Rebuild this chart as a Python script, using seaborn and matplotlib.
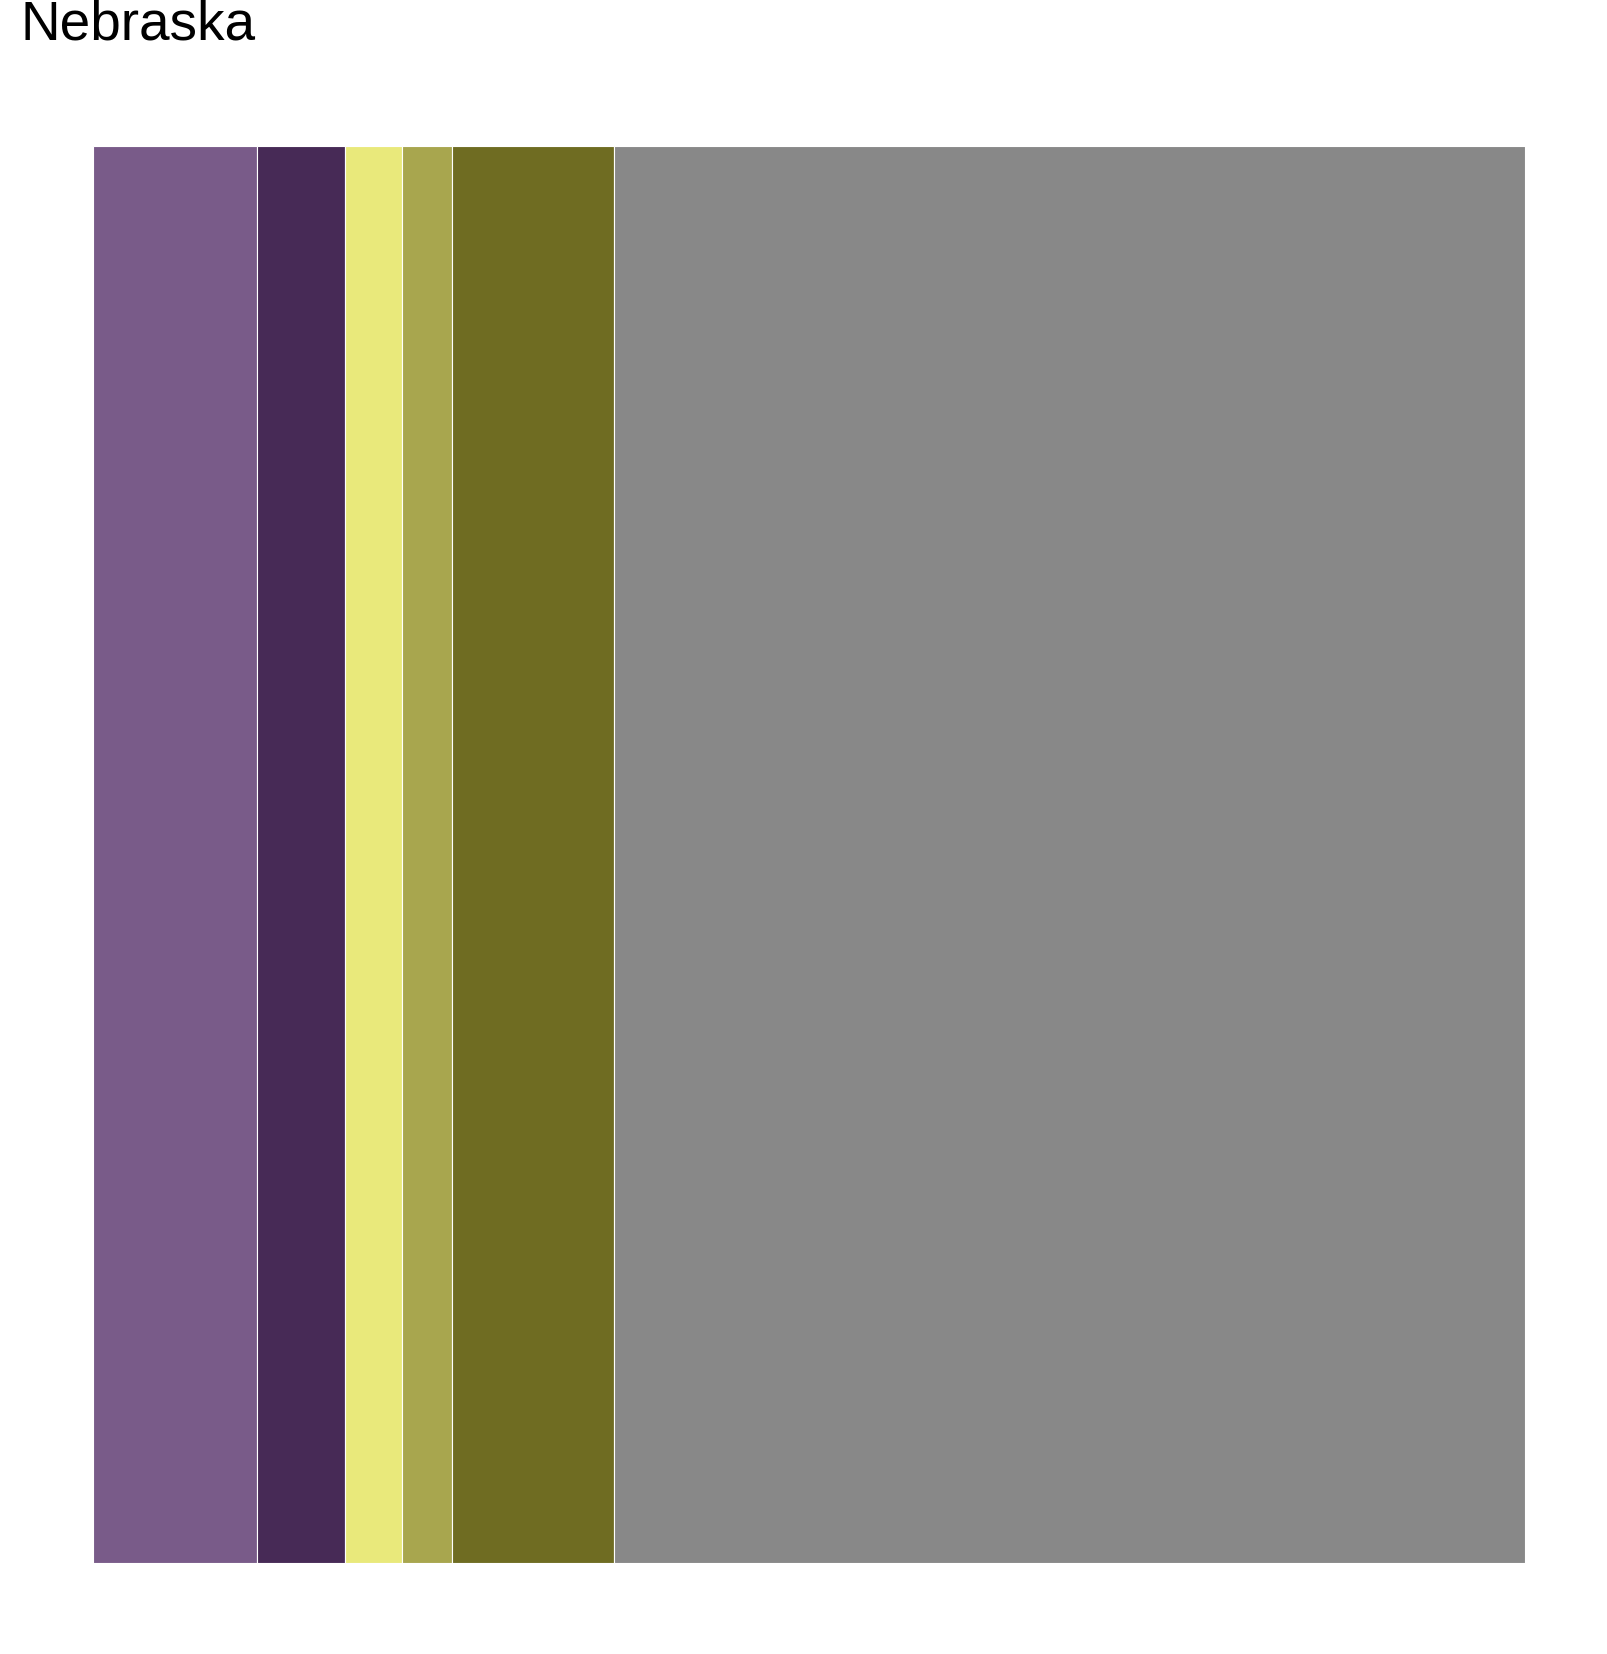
import matplotlib
matplotlib.use("Agg")
import matplotlib.pyplot as plt
import seaborn as sns
import numpy as np

groups = ["A", "B", "C", "D", "E", "Other"]
shares = [11.46, 6.08, 3.98, 3.53, 11.28, 63.67]
colors = ["#795b89", "#472a56", "#e9e97b", "#a8a64e", "#6f6c22", "#888888"]

sns.set_theme(style="white")
plt.rcParams["font.family"] = ["Liberation Sans", "DejaVu Sans"]

fig = plt.figure(figsize=(16.08, 16.54), dpi=100)
ax = fig.add_axes([0.0581, 0.0550, 0.8903, 0.8567])

# Stack the stripes left to right
starts = np.concatenate([[0], np.cumsum(shares)[:-1]])
ax.barh(y=0, width=shares, left=starts, height=1, color=colors,
        edgecolor="white", linewidth=0.8, align="center")

ax.set_xlim(0, sum(shares))
ax.set_ylim(-0.5, 0.5)
ax.axis("off")

fig.text(0.0130, 1.0005, "Nebraska", fontsize=39.5, color="black",
         ha="left", va="top")

fig.savefig("out.png", dpi=100)
